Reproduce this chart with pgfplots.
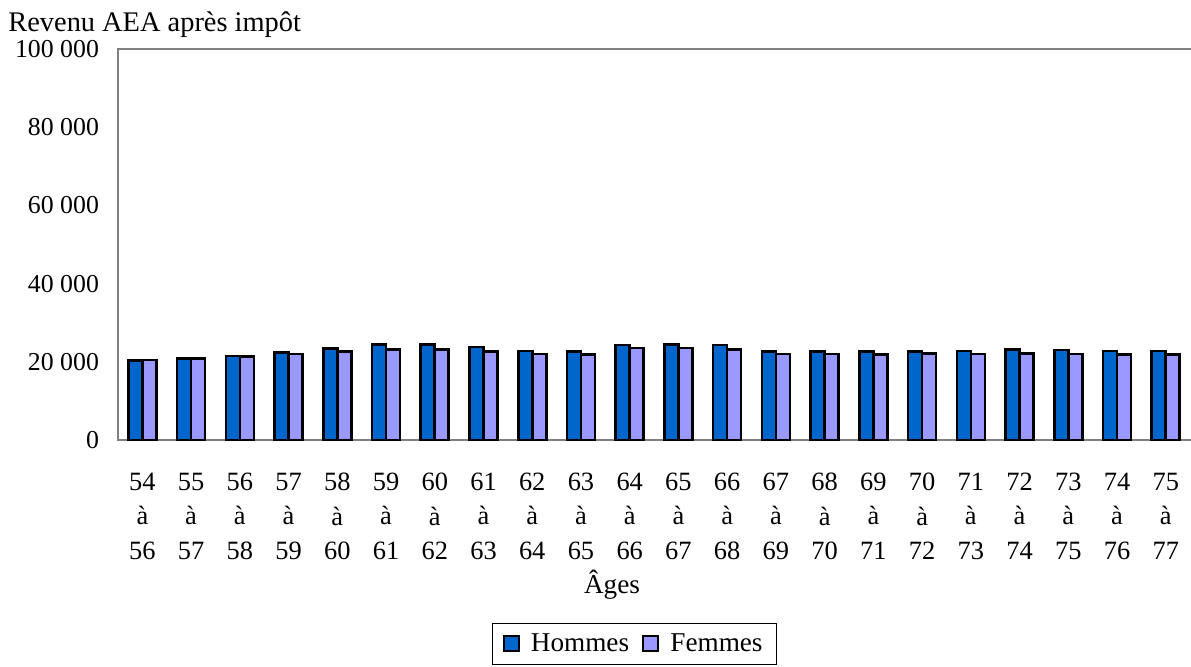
\documentclass[border=0pt]{standalone}
\usepackage{pgfplots}
\pgfplotsset{compat=1.18}
\usepackage{fontspec}
\setmainfont{Liberation Serif}
\definecolor{hom}{HTML}{0066CC}
\definecolor{fem}{HTML}{9999FF}
\definecolor{axgray}{HTML}{808080}
\begin{document}
\begin{tikzpicture}
\useasboundingbox (-59pt,-113pt) rectangle (536.5pt,220pt);
\begin{axis}[
  at={(0pt,0pt)}, anchor=south west,
  scale only axis, width=539pt, height=195.5pt,
  xmin=-0.5, xmax=21.62, ymin=0, ymax=100000,
  scaled y ticks=false,
  ybar=0pt, bar width=7pt,
  axis line style={draw=axgray, line width=0.8pt},
  major tick length=0pt,
  xtick={0,...,21},
  xticklabels={{54\\à\\56},{55\\à\\57},{56\\à\\58},{57\\à\\59},{58\\à\\60},{59\\à\\61},{60\\à\\62},{61\\à\\63},{62\\à\\64},{63\\à\\65},{64\\à\\66},{65\\à\\67},{66\\à\\68},{67\\à\\69},{68\\à\\70},{69\\à\\71},{70\\à\\72},{71\\à\\73},{72\\à\\74},{73\\à\\75},{74\\à\\76},{75\\à\\77}},
  x tick label style={align=center, font=\fontsize{13.2}{17.2}\selectfont, yshift=-13pt},
  ytick={0,20000,40000,60000,80000,100000},
  yticklabels={0,20 000,40 000,60 000,80 000,100 000},
  y tick label style={font=\fontsize{12.9}{15}\selectfont, xshift=-6pt},
  legend style={at={(0.4792,-0.521)}, anchor=center, legend columns=2, draw=black, line width=0.6pt,
    font=\fontsize{13.6}{16}\selectfont, inner xsep=5pt, inner ysep=3pt,
    /tikz/every even column/.append style={column sep=4.5pt}},
  legend image code/.code={\draw[#1, line width=1pt] (0pt,-3.5pt) rectangle (7.5pt,4pt); \path (11pt,0pt);},
  clip=false,
]
\addplot[draw=black, line width=1.3pt, fill=hom] coordinates {
(0,20300) (1,20900) (2,21500) (3,22400) (4,23400) (5,24400) (6,24500) (7,23800)
(8,22800) (9,22600) (10,24300) (11,24400) (12,24300) (13,22700) (14,22700) (15,22600)
(16,22700) (17,22800) (18,23100) (19,23000) (20,22800) (21,22800)};
\addplot[draw=black, line width=1.3pt, fill=fem] coordinates {
(0,20500) (1,20900) (2,21300) (3,22000) (4,22600) (5,23100) (6,23100) (7,22600)
(8,22000) (9,21800) (10,23500) (11,23500) (12,23200) (13,22000) (14,22000) (15,21900)
(16,22100) (17,22000) (18,22100) (19,22000) (20,21800) (21,21900)};
\legend{Hommes,Femmes}
\end{axis}
\node[anchor=base west, font=\fontsize{14.2}{16}\selectfont, inner sep=0pt] at (-55pt,204.5pt) {Revenu AEA après impôt};
\node[anchor=base, font=\fontsize{13.6}{16}\selectfont, inner sep=0pt] at (247pt,-76.5pt) {Âges};
\end{tikzpicture}
\end{document}
